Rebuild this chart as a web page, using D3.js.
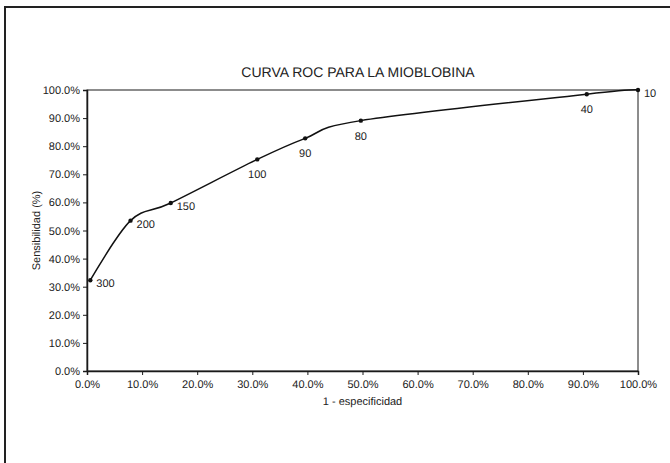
<!DOCTYPE html>
<html>
<head>
<meta charset="utf-8">
<script src="https://cdn.jsdelivr.net/npm/d3@7"></script>
<style>
  body { margin: 0; background: #fff; }
  svg { display: block; font-family: "Liberation Sans", Arial, sans-serif; text-rendering: geometricPrecision; }
</style>
</head>
<body>
<svg id="chart" width="670" height="463"></svg>
<script>
// ROC points
const cutoffs = ["300", "200", "150", "100", "90", "80", "40", "10"];
const fpr = [0.006, 0.079, 0.152, 0.309, 0.396, 0.497, 0.907, 1.0];      // 1 - especificidad
const tpr = [0.323, 0.535, 0.598, 0.753, 0.828, 0.891, 0.985, 1.0];      // sensibilidad
const ticks = [0, 0.1, 0.2, 0.3, 0.4, 0.5, 0.6, 0.7, 0.8, 0.9, 1.0];

const svg = d3.select("#chart");
const ink = "#1a1a1a";

// outer frame (only top and left edges fall inside the picture)
svg.append("rect")
    .attr("x", 5).attr("y", 7)
    .attr("width", 700).attr("height", 500)
    .attr("fill", "none")
    .attr("stroke", "#222")
    .attr("stroke-width", 2);

const margin = { left: 87, right: 638, top: 90, bottom: 371 };
const x = d3.scaleLinear().domain([0, 1]).range([margin.left, margin.right]);
const y = d3.scaleLinear().domain([0, 1]).range([margin.bottom, margin.top]);
const fmt = d3.format(".1%");

// plot area box
svg.append("rect")
    .attr("x", x(0)).attr("y", y(1))
    .attr("width", x(1) - x(0)).attr("height", y(0) - y(1))
    .attr("fill", "none")
    .attr("stroke", ink)
    .attr("stroke-width", 1);

const xAxis = svg.append("g")
    .attr("transform", `translate(0,${y(0)})`)
    .call(d3.axisBottom(x).tickValues(ticks).tickFormat(fmt).tickSize(4).tickPadding(5));

const yAxis = svg.append("g")
    .attr("transform", `translate(${x(0)},0)`)
    .call(d3.axisLeft(y).tickValues(ticks).tickFormat(fmt).tickSize(4).tickPadding(3));

[xAxis, yAxis].forEach(g => {
    g.select(".domain").attr("stroke", ink).attr("stroke-width", 1.5);
    g.selectAll(".tick line").attr("stroke", ink);
    g.selectAll(".tick text")
        .attr("fill", "#222")
        .style("font-size", "11px")
        .style("font-family", "'Liberation Sans', Arial, sans-serif");
});

// title and axis titles
svg.append("text")
    .attr("x", 358).attr("y", 77)
    .attr("text-anchor", "middle")
    .attr("fill", "#222")
    .style("font-size", "14px")
    .text("CURVA ROC PARA LA MIOBLOBINA");

svg.append("text")
    .attr("x", (x(0) + x(1)) / 2).attr("y", 405)
    .attr("text-anchor", "middle")
    .attr("fill", "#222")
    .style("font-size", "11px")
    .text("1 - especificidad");

svg.append("text")
    .attr("transform", `translate(40,${(y(0) + y(1)) / 2}) rotate(-90)`)
    .attr("text-anchor", "middle")
    .attr("fill", "#222")
    .style("font-size", "11px")
    .text("Sensibilidad (%)");

// curve
const points = cutoffs.map((c, i) => ({ label: c, fx: fpr[i], ty: tpr[i] }));

const line = d3.line()
    .x(d => x(d.fx))
    .y(d => y(d.ty))
    .curve(d3.curveCatmullRom.alpha(0));

svg.append("path")
    .datum(points)
    .attr("d", line)
    .attr("fill", "none")
    .attr("stroke", "#111")
    .attr("stroke-width", 1.5);

svg.append("g")
    .selectAll("circle")
    .data(points)
    .join("circle")
    .attr("cx", d => x(d.fx))
    .attr("cy", d => y(d.ty))
    .attr("r", 2.2)
    .attr("fill", "#111");

// labels: right of the point on the steep part and at the end, below elsewhere
const onRight = d => d.fx < 0.2 || d.fx >= 1;
svg.append("g")
    .selectAll("text")
    .data(points)
    .join("text")
    .attr("x", d => onRight(d) ? x(d.fx) + 6 : x(d.fx))
    .attr("y", d => onRight(d) ? y(d.ty) + 7 : y(d.ty) + 19)
    .attr("text-anchor", d => onRight(d) ? "start" : "middle")
    .attr("fill", "#222")
    .style("font-size", "11px")
    .text(d => d.label);
</script>
</body>
</html>
